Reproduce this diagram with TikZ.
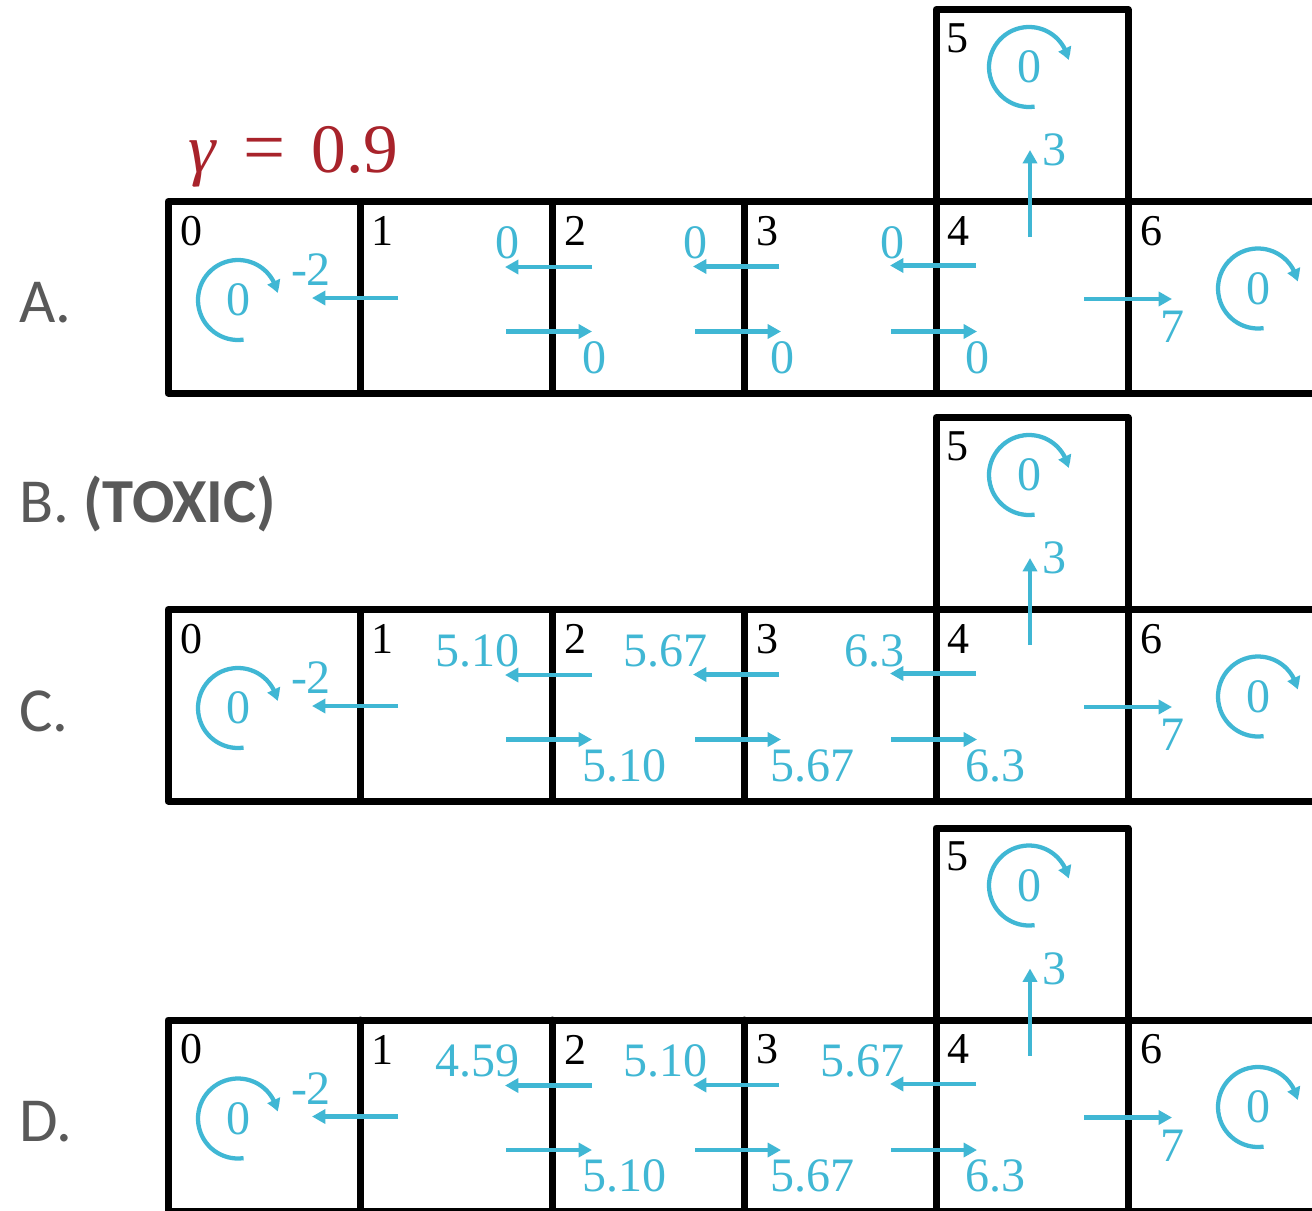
\documentclass[tikz,border=0pt]{standalone}
\usepackage{fontspec}
\setmainfont{Liberation Serif}
\newfontfamily\labelfont{Carlito}
\usetikzlibrary{arrows.meta,bending}
\definecolor{vblue}{HTML}{40B7D4}
\definecolor{gred}{HTML}{A8232B}
\definecolor{lgray}{HTML}{595959}
\tikzset{
  gridline/.style={line width=5.25pt, line join=round, line cap=round},
  arr/.style={draw=vblue, line width=3.4pt, -{Triangle[length=10pt,width=10.5pt]}},
  selfloop/.style={draw=vblue, line width=3.2pt, -{Triangle[length=9pt,width=10pt,bend]}},
  cellnum/.style={inner sep=0pt, font=\fontsize{33}{36}\selectfont},
  val/.style={inner sep=0pt, text=vblue, font=\fontsize{36}{40}\selectfont},
  plabel/.style={inner sep=0pt, anchor=base west, text=lgray, font=\labelfont\fontsize{47}{50}\selectfont},
}
% #1 prefix, #2 vertical shift, #3-#5 upper values, #6-#8 lower values
\newcommand{\mdppanel}[8]{%
\begin{scope}[shift={(0,#2)}]
  \draw[gridline] (1330,201.5) -- (168,201.5) -- (168,393) -- (1330,393);
  \foreach \gx in {360,552,744,936,1128} \draw[gridline] (\gx,201.5) -- (\gx,393);
  \draw[gridline] (936,201.5) -- (936,9.5) -- (1128,9.5) -- (1128,201.5);
  % cell numbers
  \node[cellnum] (#1n0) at (191,231) {0};
  \node[cellnum] (#1n1) at (382,231) {1};
  \node[cellnum] (#1n2) at (575,231) {2};
  \node[cellnum] (#1n3) at (767,231) {3};
  \node[cellnum] (#1n4) at (958,231) {4};
  \node[cellnum] (#1n5) at (957,38) {5};
  \node[cellnum] (#1n6) at (1151,231) {6};
  % self loops
  \node[val] (#1l0) at (238,300) {0};
  \draw[selfloop] (238,300) ++(82:40) arc[start angle=82, end angle=350, radius=40];
  \node[val] (#1l5) at (1029,67) {0};
  \draw[selfloop] (1029,67) ++(82:40) arc[start angle=82, end angle=350, radius=40];
  \node[val] (#1l6) at (1258,288.5) {0};
  \draw[selfloop] (1258,288.5) ++(82:40) arc[start angle=82, end angle=350, radius=40];
  % 1 -> 0
  \draw[arr] (398,298) -- (312,298);
  \node[val] (#1m2) at (311,270) {-2};
  % upper (leftward) arrows
  \draw[arr] (592,267) -- (505,267);
  \draw[arr] (779,266.5) -- (693,266.5);
  \draw[arr] (976,265.5) -- (890,265.5);
  \node[val, anchor=east] (#1u1) at (520,242.5) {#3};
  \node[val, anchor=east] (#1u2) at (708,242.5) {#4};
  \node[val, anchor=east] (#1u3) at (905,242.5) {#5};
  % lower (rightward) arrows
  \draw[arr] (506,331.5) -- (592,331.5);
  \draw[arr] (695,331.5) -- (781,331.5);
  \draw[arr] (891,331.5) -- (977,331.5);
  \node[val, anchor=west] (#1d1) at (582,357.5) {#6};
  \node[val, anchor=west] (#1d2) at (770,357.5) {#7};
  \node[val, anchor=west] (#1d3) at (965,357.5) {#8};
  % 4 -> 5 and 4 -> 6
  \draw[arr] (1030,237) -- (1030,150);
  \node[val] (#1r3) at (1054,150) {3};
  \draw[arr] (1084,299) -- (1172,299);
  \node[val] (#1r7) at (1172,327) {7};
\end{scope}}
\begin{document}
\begin{tikzpicture}[x=0.75pt, y=-0.75pt]
  \clip (0,0) rectangle (1312,1210);
  \fill[white] (0,0) rectangle (1312,1210);
  \node[inner sep=0pt, anchor=base west, text=gred, font=\fontsize{52}{56}\selectfont] (gamma) at (188,172) {\textit{γ}\hspace{0.38em}{\fontsize{56}{56}\selectfont =}\hspace{0.38em}0.9};
  \node[plabel] (labA) at (19,322) {A.};
  \node[plabel] (labB) at (19,522) {B. \textbf{(TOXIC)}};
  \node[plabel] (labC) at (19,731) {C.};
  \node[plabel] (labD) at (19,1141) {D.};
  \mdppanel{A}{0}{0}{0}{0}{0}{0}{0}
  \mdppanel{C}{408}{5.10}{5.67}{6.3}{5.10}{5.67}{6.3}
  \mdppanel{D}{818.5}{4.59}{5.10}{5.67}{5.10}{5.67}{6.3}
\end{tikzpicture}
\end{document}
